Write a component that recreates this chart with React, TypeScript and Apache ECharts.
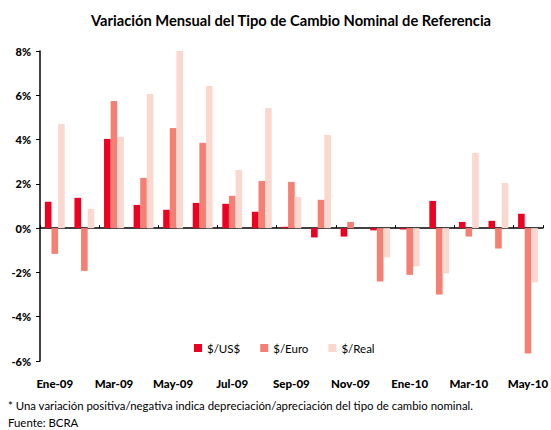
import React, { useEffect, useRef } from "react";
import * as echarts from "echarts";

const categories = [
  "Ene-09", "Feb-09", "Mar-09", "Abr-09", "May-09", "Jun-09", "Jul-09", "Ago-09", "Sep-09",
  "Oct-09", "Nov-09", "Dic-09", "Ene-10", "Feb-10", "Mar-10", "Abr-10", "May-10",
];
const usd = [1.19, 1.37, 4.03, 1.05, 0.83, 1.14, 1.1, 0.74, 0.06, -0.42, -0.38, -0.1, -0.06, 1.23, 0.28, 0.33, 0.65];
const euro = [-1.16, -1.93, 5.74, 2.27, 4.52, 3.85, 1.46, 2.13, 2.09, 1.28, 0.28, -2.41, -2.11, -3.0, -0.38, -0.92, -5.66];
const real = [4.7, 0.87, 4.12, 6.06, 8.0, 6.42, 2.63, 5.42, 1.41, 4.21, 0.0, -1.32, -1.73, -2.04, 3.4, 2.04, -2.45];

const FONT = "Lato";

export default function App() {
  const ref = useRef<HTMLDivElement>(null);
  useEffect(() => {
    document.body.style.margin = "0";
    const chart = echarts.init(ref.current!, null, { renderer: "svg" });
    const mk = (name: string, data: number[], color: string) => ({
      name,
      type: "bar",
      data,
      barGap: "0%",
      barCategoryGap: "33%",
      itemStyle: { color },
    });
    chart.setOption({
      animation: false,
      textStyle: { fontFamily: FONT },
      title: {
        text: "Variación Mensual del Tipo de Cambio Nominal de Referencia",
        left: 86,
        top: 7,
        textStyle: { fontFamily: FONT, fontSize: 14.7, fontWeight: "bold", color: "#000" },
      },
      legend: {
        left: 189,
        top: 337,
        icon: "rect",
        itemWidth: 8,
        itemHeight: 8,
        itemGap: 20,
        textStyle: { fontFamily: FONT, fontSize: 11.5, color: "#000" },
        data: ["$/US$", "$/Euro", "$/Real"],
      },
      grid: { left: 40, right: 4, top: 51, bottom: 69 },
      xAxis: [
        {
          type: "category",
          data: categories,
          axisLine: { onZero: true, lineStyle: { color: "#000", width: 1.5 } },
          axisTick: { show: true, interval: 1, inside: true, length: 3, lineStyle: { color: "#000" } },
          axisLabel: { show: false },
        },
        {
          type: "category",
          data: categories,
          position: "bottom",
          axisLine: { show: false, onZero: false },
          axisTick: { show: false },
          axisLabel: {
            interval: 1,
            margin: 16,
            fontFamily: FONT,
            fontSize: 11.5,
            fontWeight: 900,
            color: "#000",
          },
        },
      ],
      yAxis: {
        type: "value",
        min: -6,
        max: 8,
        interval: 2,
        splitLine: { show: false },
        axisLine: { show: true, lineStyle: { color: "#000", width: 1.5 } },
        axisTick: { show: true, length: 4, lineStyle: { color: "#000" } },
        axisLabel: {
          formatter: "{value}%",
          margin: 9,
          fontFamily: FONT,
          fontSize: 11,
          fontWeight: 900,
          color: "#000",
        },
      },
      series: [
        mk("$/US$", usd, "#EE0020"),
        mk("$/Euro", euro, "#F47F72"),
        mk("$/Real", real, "#FAD8CF"),
      ],
      graphic: [
        {
          type: "text",
          left: 8,
          top: 400,
          style: {
            text: "* Una variación positiva/negativa indica depreciación/apreciación del tipo de cambio nominal.",
            font: `11.4px ${FONT}`,
            fill: "#000",
          },
        },
        {
          type: "text",
          left: 8,
          top: 417,
          style: { text: "Fuente: BCRA", font: `11.4px ${FONT}`, fill: "#000" },
        },
      ],
    });
    return () => chart.dispose();
  }, []);
  return <div ref={ref} style={{ width: 551, height: 430 }} />;
}
